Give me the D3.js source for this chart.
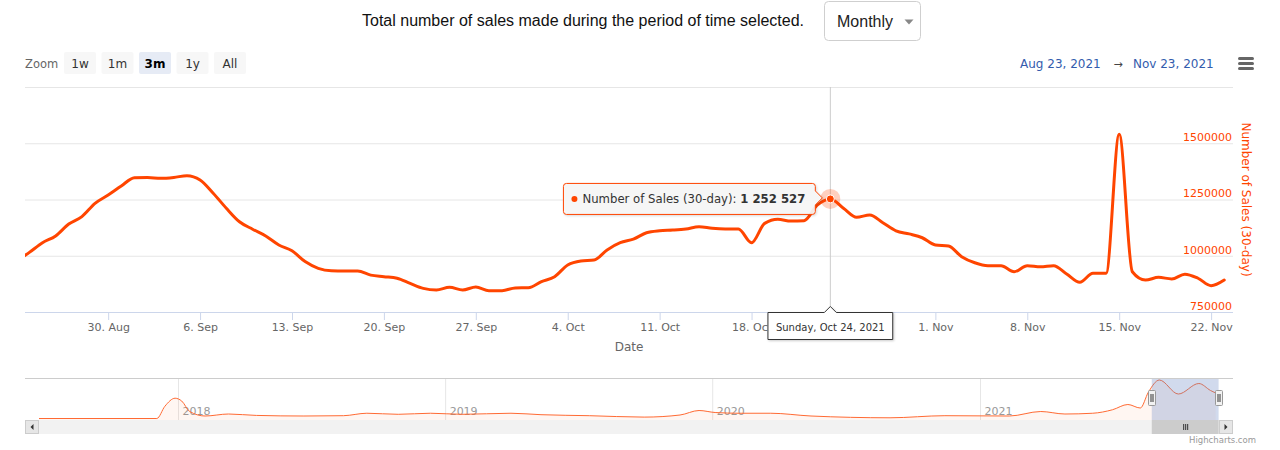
<!DOCTYPE html>
<html>
<head>
<meta charset="utf-8">
<script src="https://cdn.jsdelivr.net/npm/d3@7"></script>
<style>
  body { margin: 0; background: #fff; }
  svg text { font-family: "DejaVu Sans", Verdana, sans-serif; }
</style>
</head>
<body>
<svg id="chart" width="1280" height="450"></svg>
<script>
// ---------------- DATA ----------------
const titleText = "Total number of sales made during the period of time selected.";
const periodOption = "Monthly";
const seriesName = "Number of Sales (30-day)";
const startDay = "2021-08-23"; // first daily point
const sales = [
  975000, 1015000, 1058000, 1088000, 1141000, 1174000, 1233000,   // Aug 23 - Aug 29
  1270000, 1310000, 1347000, 1348000, 1344000, 1348000, 1356000,  // Aug 30 - Sep 5
  1337000, 1278000, 1211000, 1151000, 1118000, 1088000, 1048000,  // Sep 6 - Sep 12
  1022000, 974000, 944000, 933000, 932000, 932000, 914000,        // Sep 13 - Sep 19
  907000, 900000, 877000, 855000, 848000, 860000, 848000,         // Sep 20 - Sep 26
  861000, 845000, 845000, 857000, 858000, 885000, 907000,         // Sep 27 - Oct 3
  959000, 977000, 981000, 1026000, 1058000, 1074000, 1102000,     // Oct 4 - Oct 10
  1111000, 1114000, 1119000, 1129000, 1122000, 1119000, 1119000,  // Oct 11 - Oct 17
  1058000, 1144000, 1162000, 1154000, 1156000, 1225000, 1252527,  // Oct 18 - Oct 24
  1211000, 1171000, 1181000, 1147000, 1111000, 1097000, 1080000,  // Oct 25 - Oct 31
  1048000, 1043000, 996000, 969000, 956000, 956000, 929000,       // Nov 1 - Nov 7
  956000, 951000, 956000, 919000, 882000, 922000, 922000,         // Nov 8 - Nov 14
  1540000, 929000, 892000, 904000, 897000, 918000, 900000,        // Nov 15 - Nov 21
  867000, 892000                                                  // Nov 22 - Nov 23
];
const hoverDay = "2021-10-24";
const xTickDays = ["2021-08-30","2021-09-06","2021-09-13","2021-09-20","2021-09-27",
  "2021-10-04","2021-10-11","2021-10-18","2021-10-25","2021-11-01","2021-11-08",
  "2021-11-15","2021-11-22"];
const yGridValues = [750000, 1000000, 1250000, 1500000, 1750000];
const yLabelValues = [750000, 1000000, 1250000, 1500000];
const zoomButtons = ["1w", "1m", "3m", "1y", "All"];
const selectedButton = "3m";
const rangeFrom = "Aug 23, 2021";
const rangeTo = "Nov 23, 2021";
const navYears = ["2018", "2019", "2020", "2021"];
const navDates = ["2017-06-25","2017-12-03","2017-12-14","2017-12-28","2018-01-06","2018-01-17",
  "2018-02-07","2018-03-11","2018-04-18","2018-06-22","2018-08-15","2018-09-16","2018-10-29",
  "2018-12-12","2019-01-24","2019-04-01","2019-05-12","2019-07-17","2019-09-30","2019-11-18",
  "2019-12-14","2020-01-05","2020-02-07","2020-03-21","2020-05-15","2020-08-31","2020-11-14",
  "2021-02-10","2021-03-25","2021-04-27","2021-06-04","2021-07-01","2021-07-22","2021-08-08",
  "2021-08-19","2021-09-03","2021-09-29","2021-10-27","2021-11-12","2021-11-19"];
const navValues = [0, 0, 427000, 710000, 612000, 245000,
  87000, 157000, 108000, 87000, 98000, 184000, 147000,
  184000, 147000, 184000, 133000, 98000, 49000, 122000,
  280000, 210000, 184000, 184000, 87000, 25000, 98000,
  87000, 245000, 157000, 184000, 306000, 490000, 367000,
  919000, 1347000, 857000, 1225000, 980000, 892000];

// ---------------- SETUP ----------------
const parseDay = d3.utcParse("%Y-%m-%d");
const svg = d3.select("#chart");
const SERIES = "#ff4500";
const plot = { left: 25, right: 1233, top: 87, bottom: 312 };

const day0 = parseDay(startDay);
const points = sales.map((v, i) => ({ date: d3.utcDay.offset(day0, i), value: v }));

const x = d3.scaleUtc()
  .domain([Date.UTC(2021, 7, 23, 16), Date.UTC(2021, 10, 23, 16)])
  .range([plot.left, plot.right]);
const y = d3.scaleLinear()
  .domain([yGridValues[0], yGridValues[yGridValues.length - 1]])
  .range([plot.bottom, plot.top]);

// ---------------- HEADER ----------------
svg.append("text")
  .attr("x", 362).attr("y", 26)
  .style("font-family", "'Liberation Sans', Arial, sans-serif")
  .attr("font-size", 16).attr("fill", "#111")
  .text(titleText);

svg.append("rect")
  .attr("x", 824.5).attr("y", 1.5).attr("width", 96).attr("height", 39)
  .attr("rx", 4).attr("fill", "#fff").attr("stroke", "#cfcfcf");
svg.append("text")
  .attr("x", 837).attr("y", 27)
  .style("font-family", "'Liberation Sans', Arial, sans-serif")
  .attr("font-size", 16).attr("fill", "#222")
  .text(periodOption);
svg.append("path").attr("d", "M904.5,19.5 L913.5,19.5 L909,24.5 Z").attr("fill", "#888");

// range selector
svg.append("text").attr("x", 25).attr("y", 67.5)
  .attr("font-size", 11.5).attr("fill", "#666").text("Zoom");
const btn = svg.append("g").selectAll("g").data(zoomButtons).join("g")
  .attr("transform", (d, i) => `translate(${64 + i * 37.5},52)`);
btn.append("rect").attr("width", 32).attr("height", 22).attr("rx", 2)
  .attr("fill", d => d === selectedButton ? "#e6ebf5" : "#f7f7f7");
btn.append("text").attr("x", 16).attr("y", 15.5).attr("text-anchor", "middle")
  .attr("font-size", 12)
  .attr("font-weight", d => d === selectedButton ? "bold" : "normal")
  .attr("fill", d => d === selectedButton ? "#000" : "#333")
  .text(d => d);

// date range inputs
svg.append("text").attr("x", 1020).attr("y", 67.5).attr("font-size", 12)
  .attr("fill", "#335cad").text(rangeFrom);
svg.append("text").attr("x", 1118).attr("y", 67.5).attr("font-size", 11)
  .attr("text-anchor", "middle").attr("fill", "#444").text("→");
svg.append("text").attr("x", 1133).attr("y", 67.5).attr("font-size", 12)
  .attr("fill", "#335cad").text(rangeTo);

// hamburger
svg.append("g").selectAll("rect").data([0, 1, 2]).join("rect")
  .attr("x", 1238).attr("y", d => 57 + d * 5).attr("width", 16).attr("height", 3)
  .attr("rx", 1.5).attr("fill", "#666");

// ---------------- PLOT ----------------
const grid = svg.append("g")
  .attr("transform", `translate(${plot.left},0)`)
  .call(d3.axisRight(y).tickValues(yGridValues).tickSize(plot.right - plot.left).tickFormat(""));
grid.select(".domain").remove();
grid.selectAll("line").attr("stroke", "#e6e6e6");

const yAx = svg.append("g")
  .attr("transform", `translate(${plot.right},0)`)
  .call(d3.axisLeft(y).tickValues(yLabelValues).tickSize(0).tickPadding(1).tickFormat(d3.format("d")));
yAx.select(".domain").remove();
yAx.selectAll("text").attr("font-size", 11).attr("fill", SERIES)
  .attr("dy", "-0.25em").style("font-family", "'DejaVu Sans', sans-serif");

svg.append("text")
  .attr("transform", `translate(1246,${(plot.top + plot.bottom) / 2}) rotate(90)`)
  .attr("text-anchor", "middle").attr("dominant-baseline", "central")
  .attr("font-size", 12).attr("fill", SERIES).text(seriesName);

const hover = points.find(p => +p.date === +parseDay(hoverDay));
const hx = x(hover.date), hy = y(hover.value);

// x axis
const xAx = svg.append("g")
  .attr("transform", `translate(0,${plot.bottom})`)
  .call(d3.axisBottom(x).tickValues(xTickDays.map(parseDay)).tickSize(8).tickPadding(3)
    .tickFormat(d3.utcFormat("%-d. %b")));
xAx.select(".domain").attr("stroke", "#ccd6eb").attr("d", `M${plot.left},0.5H${plot.right}`);
xAx.selectAll("line").attr("stroke", "#ccd6eb");
xAx.selectAll("text").attr("font-size", 11).attr("fill", "#666")
  .style("font-family", "'DejaVu Sans', sans-serif");
// label hidden underneath the crosshair date label (as in the reference)
xAx.selectAll(".tick").filter(d => Math.abs(x(d) - hx) < 40).select("text").remove();

svg.append("text").attr("x", (plot.left + plot.right) / 2).attr("y", 350.5)
  .attr("text-anchor", "middle").attr("font-size", 12).attr("fill", "#666").text("Date");

svg.append("clipPath").attr("id", "plotClip").append("rect")
  .attr("x", plot.left).attr("y", plot.top - 10)
  .attr("width", plot.right - plot.left).attr("height", plot.bottom - plot.top + 20);

// crosshair
svg.append("line").attr("x1", hx).attr("x2", hx).attr("y1", plot.top).attr("y2", plot.bottom)
  .attr("stroke", "#cccccc").attr("stroke-width", 1);

const line = d3.line().x(d => x(d.date)).y(d => y(d.value)).curve(d3.curveMonotoneX);
svg.append("path").datum(points)
  .attr("clip-path", "url(#plotClip)")
  .attr("d", line).attr("fill", "none").attr("stroke", SERIES)
  .attr("stroke-width", 3).attr("stroke-linejoin", "round").attr("stroke-linecap", "round");

svg.append("circle").attr("cx", hx).attr("cy", hy).attr("r", 10)
  .attr("fill", SERIES).attr("fill-opacity", 0.25);
svg.append("circle").attr("cx", hx).attr("cy", hy).attr("r", 4)
  .attr("fill", SERIES).attr("stroke", "#fff").attr("stroke-width", 1);

// tooltip
const tip = svg.append("g");
const tipBg = tip.append("path");
const tipText = tip.append("text").attr("font-size", 11.7).attr("fill", "#333");
tipText.append("tspan").text(seriesName + ": ");
tipText.append("tspan").attr("font-weight", "bold").text(d3.format(",")(hover.value).replace(/,/g, " "));
const tw = tipText.node().getComputedTextLength();
const bRight = hx - 15, bW = tw + 29, bLeft = bRight - bW, bTop = hy - 15.5, bBot = hy + 15.5;
tipText.attr("x", bLeft + 19).attr("y", hy + 4);
tip.append("circle").attr("cx", bLeft + 11).attr("cy", hy).attr("r", 3).attr("fill", SERIES);
const r = 3;
tipBg.attr("d", `M${bLeft + r},${bTop} H${bRight - r} Q${bRight},${bTop} ${bRight},${bTop + r}
  V${hy - 8} L${hx - 8},${hy - 1} L${bRight},${hy + 6} V${bBot - r} Q${bRight},${bBot} ${bRight - r},${bBot}
  H${bLeft + r} Q${bLeft},${bBot} ${bLeft},${bBot - r} V${bTop + r} Q${bLeft},${bTop} ${bLeft + r},${bTop} Z`)
  .attr("fill", "rgba(247,247,247,0.92)").attr("stroke", SERIES).attr("stroke-width", 1)
  .style("filter", "drop-shadow(1px 1px 1px rgba(0,0,0,0.15))");

// x crosshair label
const lab = svg.append("g");
const labBg = lab.append("path");
const labText = lab.append("text").attr("font-size", 10).attr("fill", "#333")
  .attr("text-anchor", "middle").attr("x", hx).attr("y", 331)
  .text(d3.utcFormat("%A, %b %d, %Y")(hover.date));
const lw = labText.node().getComputedTextLength() + 16;
const lL = hx - lw / 2, lR = hx + lw / 2, lT = 312.5, lB = 339.5;
labBg.attr("d", `M${lL},${lT} H${hx - 6} L${hx},${lT - 6} L${hx + 6},${lT} H${lR} V${lB} H${lL} Z`)
  .attr("fill", "#fff").attr("stroke", "#333").attr("stroke-width", 1)
  .style("filter", "drop-shadow(1px 1px 1px rgba(0,0,0,0.2))");

// ---------------- NAVIGATOR ----------------
const nav = { left: 39, right: 1218.6, top: 378, bottom: 420 };
const nx = d3.scaleUtc()
  .domain([parseDay(navDates[0]), points[points.length - 1].date])
  .range([nav.left, nav.right]);
const ny = d3.scaleLinear().domain([0, 1400000]).range([418.5, 378.5]);
const navPts = navDates.map((d, i) => ({ date: parseDay(d), value: navValues[i] }));

const navAx = svg.append("g").attr("transform", `translate(0,${nav.bottom})`)
  .call(d3.axisTop(nx).tickValues(navYears.map(yv => new Date(Date.UTC(+yv, 0, 1))))
    .tickSize(nav.bottom - nav.top).tickFormat(d3.utcFormat("%Y")));
navAx.select(".domain").remove();
navAx.selectAll("line").attr("stroke", "#e6e6e6");
navAx.selectAll("text").attr("font-size", 11).attr("fill", "#999").attr("text-anchor", "start")
  .attr("x", 4).attr("y", -5).style("font-family", "'DejaVu Sans', sans-serif");

svg.append("path").datum(navPts)
  .attr("d", d3.area().x(d => nx(d.date)).y0(nav.bottom).y1(d => ny(d.value)).curve(d3.curveMonotoneX))
  .attr("fill", SERIES).attr("fill-opacity", 0.05);
svg.append("path").datum(navPts)
  .attr("d", d3.line().x(d => nx(d.date)).y(d => ny(d.value)).curve(d3.curveMonotoneX))
  .attr("fill", "none").attr("stroke", "#ff6a33").attr("stroke-width", 1);

svg.append("line").attr("x1", 25).attr("x2", plot.right).attr("y1", nav.top + 0.5).attr("y2", nav.top + 0.5)
  .attr("stroke", "#cccccc");

const mL = nx(x.domain()[0]), mR = Math.min(nav.right, nx(x.domain()[1]));
svg.append("rect").attr("x", mL).attr("y", nav.top + 1).attr("width", mR - mL)
  .attr("height", nav.bottom - nav.top - 1).attr("fill", "rgba(102,133,194,0.3)");

// scrollbar
svg.append("rect").attr("x", 25).attr("y", nav.bottom).attr("width", plot.right - 25).attr("height", 14)
  .attr("fill", "#f2f2f2");
svg.append("rect").attr("x", mL).attr("y", nav.bottom).attr("width", mR - mL).attr("height", 14)
  .attr("fill", "#cccccc");
svg.append("g").selectAll("line").data([-2, 0, 2]).join("line")
  .attr("x1", d => (mL + mR) / 2 + d + 0.5).attr("x2", d => (mL + mR) / 2 + d + 0.5)
  .attr("y1", nav.bottom + 4).attr("y2", nav.bottom + 10).attr("stroke", "#333");
[[25, -1], [plot.right - 14, 1]].forEach(([bx, dir]) => {
  svg.append("rect").attr("x", bx + 0.5).attr("y", nav.bottom + 0.5).attr("width", 13).attr("height", 13)
    .attr("fill", "#e6e6e6").attr("stroke", "#cccccc");
  const cx = bx + 7, cy = nav.bottom + 7;
  svg.append("path").attr("d", dir < 0
      ? `M${cx + 1.5},${cy - 3} L${cx - 1.5},${cy} L${cx + 1.5},${cy + 3} Z`
      : `M${cx - 1.5},${cy - 3} L${cx + 1.5},${cy} L${cx - 1.5},${cy + 3} Z`)
    .attr("fill", "#333");
});

// handles
[mL, mR].forEach(hxp => {
  svg.append("rect").attr("x", Math.round(hxp) - 3.5).attr("y", 390.5).attr("width", 7).attr("height", 15)
    .attr("rx", 1).attr("fill", "#f2f2f2").attr("stroke", "#999");
  [-1, 1].forEach(o => svg.append("line")
    .attr("x1", Math.round(hxp) + o).attr("x2", Math.round(hxp) + o)
    .attr("y1", 394).attr("y2", 402).attr("stroke", "#333"));
});

svg.append("text").attr("x", 1256).attr("y", 443).attr("text-anchor", "end")
  .attr("font-size", 8.5).attr("fill", "#999").text("Highcharts.com");
</script>
</body>
</html>
